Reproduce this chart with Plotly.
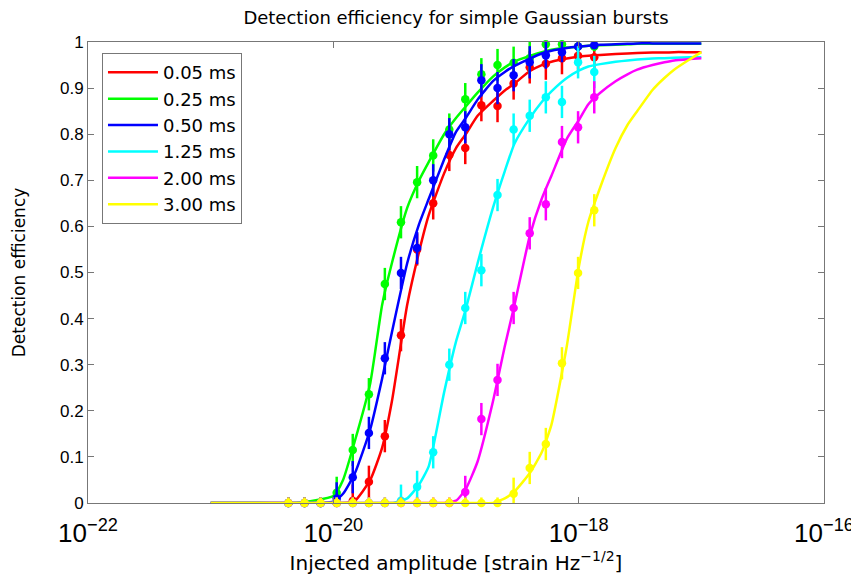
import plotly.graph_objects as go

# ---------------- data ----------------
series_names = ["0.05 ms", "0.25 ms", "0.50 ms", "1.25 ms", "2.00 ms", "3.00 ms"]
series_colors = ["#ff0000", "#00ff00", "#0000ff", "#00ffff", "#ff00ff", "#ffff00"]

# injected amplitudes of the measured points
amp_points = [4.30e-21, 5.82e-21, 7.87e-21, 1.065e-20, 1.44e-20, 1.95e-20, 2.63e-20,
              3.56e-20, 4.82e-20, 6.52e-20, 8.82e-20, 1.19e-19, 1.61e-19, 2.18e-19,
              2.95e-19, 3.99e-19, 5.40e-19, 7.31e-19, 9.89e-19, 1.34e-18]

pts_005 = [0, 0, 0, 0, 0.005, 0.046, 0.145, 0.364, 0.55, 0.65, 0.755, 0.77, 0.863, 0.861,
           0.91, 0.945, 0.953, 0.965, 0.97, 0.967]
pts_025 = [0, 0, 0, 0.022, 0.115, 0.236, 0.475, 0.609, 0.696, 0.754, 0.81, 0.876, 0.93, 0.95,
           0.955, 0.965, 0.995, 0.995, 0.99, 0.99]
pts_050 = [0, 0, 0, 0.01, 0.056, 0.152, 0.314, 0.499, 0.553, 0.70, 0.80, 0.815, 0.917, 0.90,
           0.928, 0.956, 0.971, 0.978, 0.99, 0.993]
pts_125 = [0, 0, 0, 0, 0, 0, 0, 0.005, 0.035, 0.11, 0.30, 0.423, 0.505, 0.668, 0.81, 0.84,
           0.88, 0.87, 0.956, 0.935]
pts_200 = [0, 0, 0, 0, 0, 0, 0, 0, 0, 0, 0, 0.024, 0.182, 0.267, 0.423, 0.585, 0.648, 0.783,
           0.815, 0.88]
pts_300 = [0, 0, 0, 0, 0, 0, 0, 0, 0, 0, 0, 0, 0, 0, 0.02, 0.076, 0.128, 0.303, 0.499, 0.635]

# fitted curves at these amplitudes
amp_curve = [1e-21, 2e-21, 5e-21, 1e-20, 1.2e-20, 1.5e-20, 2e-20, 2.5e-20, 3e-20, 4e-20,
             5e-20, 6e-20, 8e-20, 1e-19, 1.2e-19, 1.5e-19, 2e-19, 2.5e-19, 3e-19, 4e-19,
             5e-19, 6e-19, 8e-19, 1e-18, 1.2e-18, 1.5e-18, 2e-18, 2.5e-18, 3e-18, 4e-18,
             5e-18, 6e-18, 8e-18, 1e-17]

fit_005 = [0, 0, 0, 0, 0, 0.005, 0.05, 0.12, 0.22, 0.43, 0.545, 0.625, 0.715, 0.77, 0.80,
           0.84, 0.872, 0.895, 0.91, 0.937, 0.95, 0.957, 0.964, 0.968, 0.97, 0.972, 0.974,
           0.975, 0.976, 0.977, 0.977, 0.978, 0.978, 0.978]
fit_025 = [0, 0, 0, 0.015, 0.05, 0.135, 0.26, 0.43, 0.52, 0.64, 0.70, 0.74, 0.80, 0.835,
           0.86, 0.89, 0.925, 0.945, 0.958, 0.97, 0.978, 0.983, 0.988, 0.99, 0.992, 0.993,
           0.994, 0.995, 0.996, 0.996, 0.996, 0.996, 0.996, 0.996]
fit_050 = [0, 0, 0, 0.003, 0.02, 0.065, 0.16, 0.27, 0.37, 0.52, 0.605, 0.66, 0.745, 0.805,
           0.835, 0.875, 0.915, 0.935, 0.948, 0.964, 0.975, 0.981, 0.987, 0.99, 0.992, 0.994,
           0.995, 0.996, 0.997, 0.997, 0.997, 0.997, 0.997, 0.997]
fit_125 = [0, 0, 0, 0, 0, 0, 0, 0, 0, 0.01, 0.04, 0.08, 0.24, 0.35, 0.42, 0.52, 0.64, 0.72,
           0.78, 0.835, 0.87, 0.893, 0.922, 0.938, 0.947, 0.952, 0.957, 0.96, 0.962, 0.964,
           0.965, 0.966, 0.967, 0.967]
fit_200 = [0, 0, 0, 0, 0, 0, 0, 0, 0, 0, 0, 0, 0, 0.005, 0.03, 0.09, 0.22, 0.34, 0.43, 0.58,
           0.66, 0.71, 0.79, 0.83, 0.865, 0.89, 0.915, 0.93, 0.94, 0.95, 0.956, 0.96, 0.963,
           0.965]
fit_300 = [0, 0, 0, 0, 0, 0, 0, 0, 0, 0, 0, 0, 0, 0, 0, 0, 0, 0.01, 0.025, 0.065, 0.11, 0.17,
           0.34, 0.51, 0.61, 0.685, 0.77, 0.82, 0.85, 0.896, 0.922, 0.94, 0.962, 0.978]

points_all = [pts_005, pts_025, pts_050, pts_125, pts_200, pts_300]
fits_all = [fit_005, fit_025, fit_050, fit_125, fit_200, fit_300]

x_tick_vals = [1e-22, 1e-20, 1e-18, 1e-16]
x_tick_text = ["10<sup>\u221222</sup>", "10<sup>\u221220</sup>", "10<sup>\u221218</sup>", "10<sup>\u221216</sup>"]
y_tick_vals = [0, 0.1, 0.2, 0.3, 0.4, 0.5, 0.6, 0.7, 0.8, 0.9, 1]
y_tick_text = ["0", "0.1", "0.2", "0.3", "0.4", "0.5", "0.6", "0.7", "0.8", "0.9", "1"]

# ---------------- figure ----------------
SANS = "Liberation Sans, Arial, Helvetica, sans-serif"
WIDE = "DejaVu Sans, Verdana, sans-serif"
fig = go.Figure()

for name, color, pts, fit in zip(series_names, series_colors, points_all, fits_all):
    fig.add_trace(go.Scatter(
        x=amp_curve, y=fit, mode="lines", name=name,
        line=dict(color=color, width=2.5, shape="spline", smoothing=0.5),
        showlegend=True))
    err = [min(0.035, 1 - v) if v > 0 else 0.012 for v in pts]
    fig.add_trace(go.Scatter(
        x=amp_points, y=pts, mode="markers", name=name, showlegend=False,
        marker=dict(color=color, size=8.5),
        error_y=dict(type="data", array=err, color=color, thickness=2.5, width=0),
        cliponaxis=False))

axis_common = dict(showgrid=False, zeroline=False, showline=True, linecolor="#777777",
                   linewidth=1, mirror="ticks", ticks="inside", tickcolor="#777777",
                   ticklen=6, automargin=False)

fig.update_layout(
    width=859, height=577,
    paper_bgcolor="white", plot_bgcolor="white",
    margin=dict(l=80, r=43, t=34, b=82),
    font=dict(family=SANS, color="black"),
    title=dict(text="Detection efficiency for simple Gaussian bursts",
               x=0.5, xref="paper", xanchor="center",
               y=1, yref="container", yanchor="top", pad=dict(t=3),
               font=dict(size=18, family=WIDE, color="black")),
    xaxis=dict(type="log", range=[-22, -16], tickvals=x_tick_vals, ticktext=x_tick_text,
               tickfont=dict(size=26, family=SANS, color="black"),
               ticklabelstandoff=7,
               title=dict(text="Injected amplitude [strain Hz<sup>\u22121/2</sup>]",
                          font=dict(size=20, family=WIDE, color="black"), standoff=0),
               **axis_common),
    yaxis=dict(range=[0, 1], tickvals=y_tick_vals, ticktext=y_tick_text,
               tickfont=dict(size=17, family=SANS, color="black"),
               title=dict(text="Detection efficiency",
                          font=dict(size=17, family=WIDE, color="black"), standoff=30),
               **axis_common),
    legend=dict(x=0.019, y=0.976, xanchor="left", yanchor="top",
                bgcolor="white", bordercolor="#777777", borderwidth=1,
                font=dict(size=18, family=WIDE, color="black"),
                itemwidth=50, tracegroupgap=0),
)

fig.write_html("out.html")
